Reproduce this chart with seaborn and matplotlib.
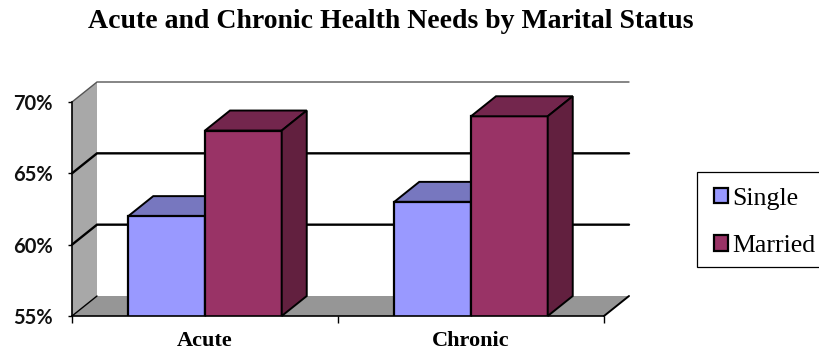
import matplotlib
matplotlib.use("Agg")
import matplotlib.pyplot as plt
from matplotlib.patches import Polygon, Rectangle
import pandas as pd
import seaborn as sns

categories = ["Acute", "Chronic"]
single_values = [62, 63]
married_values = [68, 69]
series_names = ["Single", "Married"]
y_ticks = [55, 60, 65, 70]
y_tick_labels = ["55%", "60%", "65%", "70%"]

W, H = 820, 354
FRONT = {"Single": "#9999ff", "Married": "#993366"}
TOP = {"Single": "#7777bf", "Married": "#73264d"}
SIDE = {"Single": "#60607f", "Married": "#62203f"}
SERIF = "Liberation Serif"
SANS = "Lato"

sns.set_theme(style="white")

df = pd.DataFrame({
    "need": categories * 2,
    "status": [series_names[0]] * 2 + [series_names[1]] * 2,
    "share": single_values + married_values,
})

fig = plt.figure(figsize=(W / 100, H / 100), dpi=100, facecolor="white")
ax = fig.add_axes([72 / W, 1 - 316 / H, 532 / W, 214 / H])
ax.patch.set_alpha(0)

sns.barplot(
    data=df, x="need", y="share", hue="status", hue_order=series_names,
    palette=FRONT, width=0.577, saturation=1, edgecolor="black", linewidth=1.6,
    dodge=True, ax=ax, zorder=4,
)
ax.set_xlim(-0.5, 1.5)
ax.set_ylim(55, 70)

# Oblique depth of the box, in data units
dx = 25 / (532 / 2)
dy = 20 / (214 / 15)
x0, x1 = ax.get_xlim()
y0, y1 = ax.get_ylim()

ax.add_patch(Polygon([(x0, y0), (x0, y1), (x0 + dx, y1 + dy), (x0 + dx, y0 + dy)],
                     closed=True, fc="#a8a8a8", ec="none", clip_on=False, zorder=1))
ax.add_patch(Polygon([(x0, y0), (x1, y0), (x1 + dx, y0 + dy), (x0 + dx, y0 + dy)],
                     closed=True, fc="#969696", ec="none", clip_on=False, zorder=1))

# Gridlines run up the side wall and along the back wall
for t in y_ticks[1:]:
    is_top = t == y_ticks[-1]
    ax.plot([x0, x0 + dx, x1 + dx], [t, t + dy, t + dy],
            color="#555555" if is_top else "black",
            lw=1.0 if is_top else 1.7, clip_on=False, zorder=2,
            solid_joinstyle="miter")
ax.plot([x0, x0 + dx], [y0, y0 + dy], color="black", lw=1.0, clip_on=False, zorder=2)
ax.plot([x1, x1 + dx], [y0, y0 + dy], color="black", lw=1.4, clip_on=False, zorder=2)

# Top and side faces for each bar drawn by seaborn
for container, name in zip(ax.containers, series_names):
    for bar in container:
        left = bar.get_x()
        right = left + bar.get_width()
        top = bar.get_height()
        ax.add_patch(Polygon(
            [(left, top), (right, top), (right + dx, top + dy), (left + dx, top + dy)],
            closed=True, fc=TOP[name], ec="black", lw=1.4, clip_on=False,
            zorder=3 if name == "Single" else 5, joinstyle="miter"))
        ax.add_patch(Polygon(
            [(right, y0), (right, top), (right + dx, top + dy), (right + dx, y0 + dy)],
            closed=True, fc=SIDE[name], ec="black", lw=1.4, clip_on=False,
            zorder=3 if name == "Single" else 5, joinstyle="miter"))

sns.despine(ax=ax, top=True, right=True)
for side in ("left", "bottom"):
    ax.spines[side].set_color("black")
    ax.spines[side].set_linewidth(1.2)
    ax.spines[side].set_zorder(6)

ax.set_xlabel("")
ax.set_ylabel("")
ax.set_yticks(y_ticks, y_tick_labels, fontfamily=SANS, fontweight="bold", fontsize=14.5, color="#111111")
ax.set_xticks([0, 1], categories, fontfamily=SERIF, fontweight="bold", fontsize=16, color="black")
ax.set_xticks([-0.5, 0.5, 1.5], minor=True)
ax.tick_params(axis="y", which="major", left=True, length=3, width=1, color="black", pad=11)
ax.tick_params(axis="x", which="major", bottom=False, length=0, pad=11)
ax.tick_params(axis="x", which="minor", bottom=True, length=5, width=1, color="black")

# Legend frame runs off the right edge of the figure
fig.add_artist(Rectangle((697 / W, 1 - 267 / H), 140 / W, 95 / H, transform=fig.transFigure,
                         fc="white", ec="black", lw=0.9, zorder=-1))

handles, labels = ax.get_legend_handles_labels()
leg = ax.legend(
    handles, labels, loc="center left",
    bbox_to_anchor=(714 / W, 1 - 222.5 / H), bbox_transform=fig.transFigure,
    prop={"family": SERIF, "size": 18.6}, labelcolor="black",
    frameon=False, borderpad=0, labelspacing=1.0, handlelength=0.56,
    handleheight=0.56, handletextpad=0.13, borderaxespad=0,
)

fig.text(391 / W, 1 - 21 / H, "Acute and Chronic Health Needs by Marital Status",
         ha="center", va="center", family=SERIF, fontweight="bold", fontsize=20, color="black")

fig.savefig("out.png", dpi=100)
